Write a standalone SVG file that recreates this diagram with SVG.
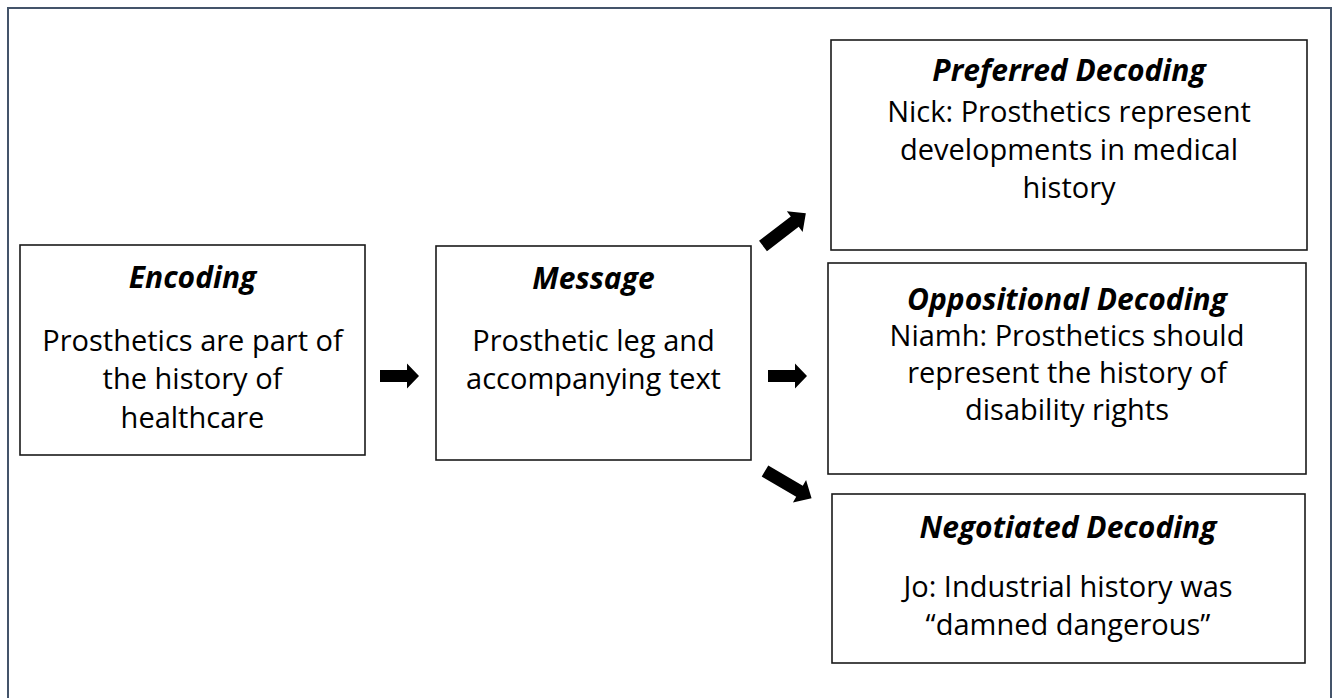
<svg xmlns="http://www.w3.org/2000/svg" width="1338" height="698" viewBox="0 0 1338 698">
  <style>
    .box { fill: #ffffff; stroke: #1a1a1a; stroke-width: 1.6; }
    .head { font-family: "Open Sans", "Liberation Sans", sans-serif; font-size: 30px; font-weight: 700; font-style: italic; fill: #000; text-anchor: middle; }
    .body { font-family: "Open Sans", "Liberation Sans", sans-serif; font-size: 29px; fill: #000; text-anchor: middle; }
    .arrow { fill: #000; }
  </style>
  <defs>
    <!-- block arrows pointing right, origin at the tail centre -->
    <path id="blockArrow" d="M0,-6 L27,-6 L27,-12.5 L39,0 L27,12.5 L27,6 L0,6 Z"/>
    <path id="longArrow" d="M0,-6.5 L40,-6.5 L40,-13 L54,0 L40,13 L40,6.5 L0,6.5 Z"/>
  </defs>
  <rect width="1338" height="698" fill="#ffffff"/>
  <!-- outer frame -->
  <rect x="8" y="8" width="1323" height="720" fill="none" stroke="#44546a" stroke-width="2"/>

  <g id="encoding">
    <rect class="box" x="20" y="245" width="345" height="210"/>
    <text class="head" x="192.5" y="288">Encoding</text>
    <text class="body" x="192.5" y="351">Prosthetics are part of</text>
    <text class="body" x="192.5" y="389">the history of</text>
    <text class="body" x="192.5" y="428">healthcare</text>
  </g>

  <g id="message">
    <rect class="box" x="436" y="246" width="315" height="214"/>
    <text class="head" x="593.5" y="289">Message</text>
    <text class="body" x="593.5" y="351">Prosthetic leg and</text>
    <text class="body" x="593.5" y="389">accompanying text</text>
  </g>

  <g id="preferred">
    <rect class="box" x="831" y="40" width="476" height="210"/>
    <text class="head" x="1069" y="81">Preferred Decoding</text>
    <text class="body" x="1069" y="122">Nick: Prosthetics represent</text>
    <text class="body" x="1069" y="160">developments in medical</text>
    <text class="body" x="1069" y="198">history</text>
  </g>

  <g id="oppositional">
    <rect class="box" x="828" y="263" width="478" height="211"/>
    <text class="head" x="1067" y="310">Oppositional Decoding</text>
    <text class="body" x="1067" y="346">Niamh: Prosthetics should</text>
    <text class="body" x="1067" y="383">represent the history of</text>
    <text class="body" x="1067" y="420">disability rights</text>
  </g>

  <g id="negotiated">
    <rect class="box" x="832" y="494" width="473" height="169"/>
    <text class="head" x="1068" y="538">Negotiated Decoding</text>
    <text class="body" x="1068" y="597">Jo: Industrial history was</text>
    <text class="body" x="1068" y="635">“damned dangerous”</text>
  </g>

  <g id="connectors">
    <use href="#blockArrow" class="arrow" transform="translate(380,376)"/>
    <use href="#blockArrow" class="arrow" transform="translate(768,376)"/>
    <use href="#longArrow" class="arrow" transform="translate(763,246) rotate(-37.5)"/>
    <use href="#longArrow" class="arrow" transform="translate(765,471) rotate(30.4)"/>
  </g>
</svg>
